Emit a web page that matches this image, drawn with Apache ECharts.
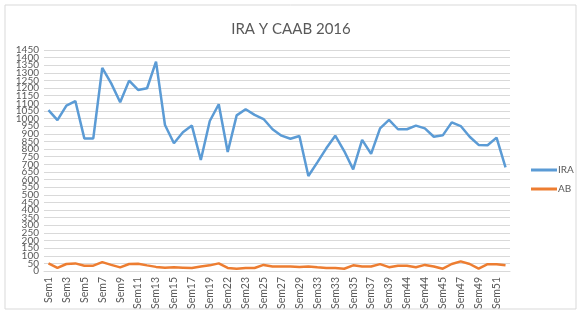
<!DOCTYPE html>
<html>
<head>
<meta charset="utf-8">
<script src="https://cdn.jsdelivr.net/npm/echarts@6/dist/echarts.min.js"></script>
<style>
  html, body { margin: 0; padding: 0; background: #fff; }
  #chart { width: 582px; height: 314px; }
</style>
</head>
<body>
<div id="chart"></div>
<script>
// semanas (las etiquetas tal como salen en el gráfico)
var semanas = ["Sem1","Sem2","Sem3","Sem4","Sem5","Sem6","Sem7","Sem8","Sem9","Sem10",
  "Sem11","Sem12","Sem13","Sem14","Sem15","Sem16","Sem17","Sem18","Sem19","Sem21",
  "Sem22","Sem22","Sem23","Sem24","Sem25","Sem26","Sem27","Sem28","Sem29","Sem30",
  "Sem33","Sem32","Sem33","Sem34","Sem35","Sem36","Sem37","Sem38","Sem39","Sem40",
  "Sem44","Sem43","Sem44","Sem44","Sem45","Sem46","Sem47","Sem48","Sem49","Sem50",
  "Sem51","Sem52"];

var ira = [1055, 990, 1085, 1115, 870, 870, 1332, 1231, 1107, 1249,
  1188, 1199, 1374, 958, 838, 910, 954, 728, 984, 1094,
  781, 1021, 1061, 1024, 997, 930, 888, 868, 886, 623,
  713, 805, 888, 787, 667, 860, 768, 936, 991, 930,
  930, 954, 936, 881, 890, 975, 951, 881, 827, 825,
  875, 680];

var ab = [50, 20, 46, 50, 35, 35, 58, 40, 24, 46,
  48, 37, 27, 22, 24, 22, 20, 30, 37, 50,
  20, 15, 20, 20, 40, 30, 30, 30, 27, 30,
  24, 20, 20, 15, 37, 30, 30, 45, 25, 35,
  35, 25, 40, 30, 15, 46, 63, 46, 15, 45,
  45, 38];

var yMin = 0, yMax = 1450, yStep = 50;

var myChart = echarts.init(document.getElementById("chart"));
var fuente = "Lato";
var etiquetaY = { fontSize: 10, color: "#595959", margin: 5, hideOverlap: false };

myChart.setOption({
  backgroundColor: "#fff",
  textStyle: { fontFamily: fuente },
  color: ["#5B9BD5", "#ED7D31"],
  title: {
    text: "IRA Y CAAB 2016",
    left: "center",
    top: 17,
    textStyle: { fontSize: 15, fontWeight: "normal", color: "#595959", fontFamily: fuente }
  },
  graphic: [{
    type: "rect",
    shape: { x: 5, y: 5, width: 571, height: 304 },
    style: { fill: "none", stroke: "#d9d9d9", lineWidth: 1 },
    silent: true
  }],
  legend: {
    orient: "vertical",
    left: 526,
    top: 160,
    itemGap: 9,
    itemWidth: 26,
    itemHeight: 3,
    icon: "rect",
    textStyle: { fontSize: 10, color: "#595959", padding: [0, 0, 0, -4] },
    data: ["IRA", "AB"]
  },
  grid: { left: 44, right: 72, top: 50, bottom: 43, containLabel: false },
  xAxis: {
    type: "category",
    data: semanas,
    boundaryGap: true,
    axisLine: { lineStyle: { color: "#d9d9d9" } },
    axisTick: { show: false },
    axisLabel: { interval: 1, rotate: 90, fontSize: 10.5, color: "#595959", margin: 6 }
  },
  yAxis: [{
    // eje principal: etiquetas intermedias + líneas de cuadrícula
    type: "value",
    position: "left",
    min: yMin,
    max: yMax,
    interval: yStep,
    axisLine: { show: false },
    axisTick: { show: false },
    axisLabel: Object.assign({}, etiquetaY, {
      showMinLabel: false, showMaxLabel: false,
      formatter: function (v) { return String(v); }
    }),
    splitLine: { lineStyle: { color: "#d9d9d9" } }
  }, {
    // mismo eje, solo para las etiquetas de los extremos (0 y 1450)
    type: "value",
    position: "left",
    min: yMin,
    max: yMax,
    interval: yStep,
    axisLine: { show: false },
    axisTick: { show: false },
    splitLine: { show: false },
    axisLabel: Object.assign({}, etiquetaY, {
      showMinLabel: true, showMaxLabel: true,
      formatter: function (v) { return (v === yMin || v === yMax) ? String(v) : ""; }
    })
  }],
  series: [
    { name: "IRA", type: "line", data: ira, showSymbol: false, symbol: "none",
      lineStyle: { width: 2.5 } },
    { name: "AB", type: "line", data: ab, showSymbol: false, symbol: "none",
      lineStyle: { width: 2.5 } }
  ]
});
</script>
</body>
</html>
